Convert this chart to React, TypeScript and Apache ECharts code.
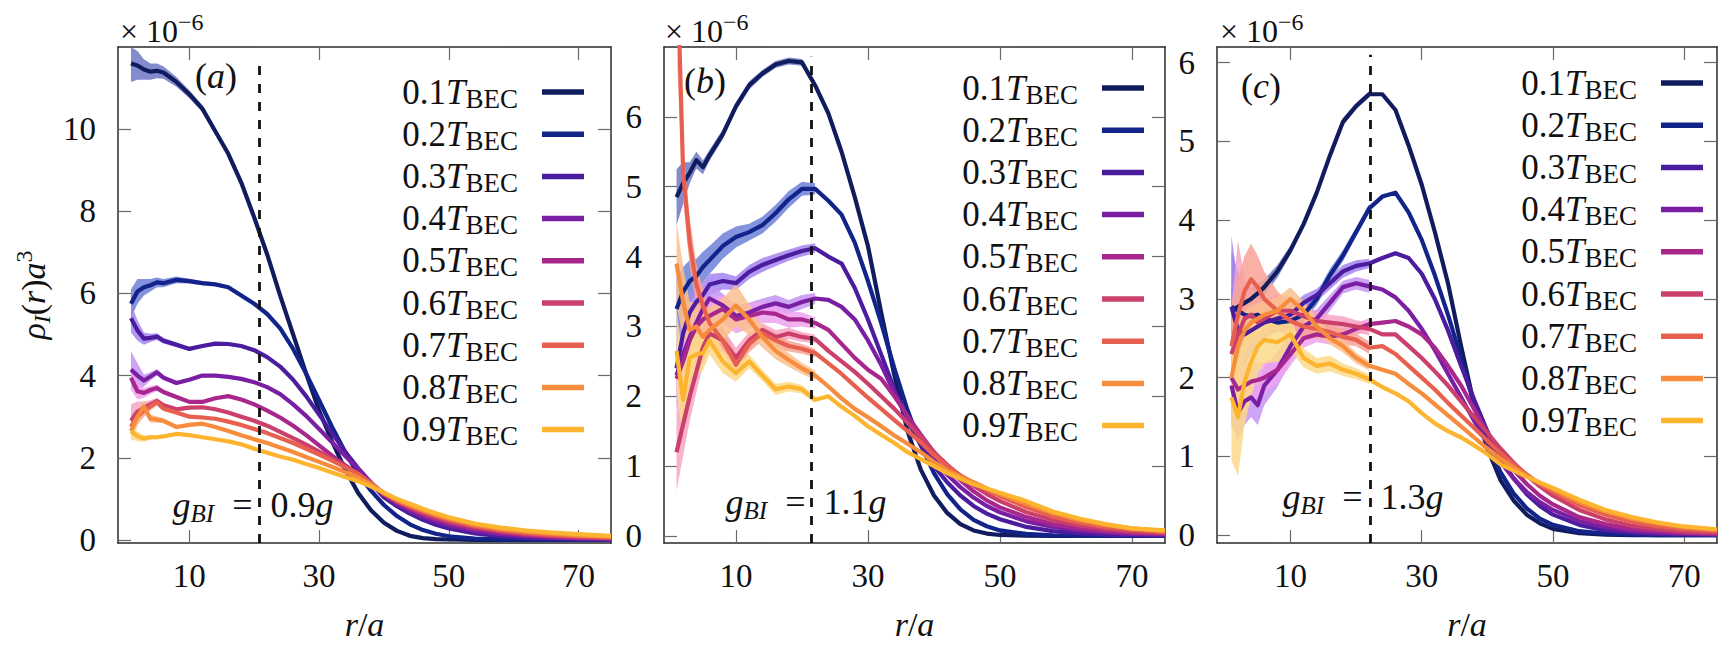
import React, { useEffect, useRef } from 'react';
import * as echarts from 'echarts';

const FONT = 'Liberation Serif';

// radial grid r/a
const R = [1, 2, 3, 4, 5, 6, 8, 10, 12, 14, 16, 18, 20, 22, 24, 26, 28, 30, 32, 34, 36, 38, 40, 42, 44, 46, 48, 50, 54, 58, 62, 66, 70, 75];
const TEMPS = ['0.1', '0.2', '0.3', '0.4', '0.5', '0.6', '0.7', '0.8', '0.9'];
const LINE_COLORS = ['#101c5e', '#12248a', '#4b1d9e', '#7a1fa3', '#a8278d', '#cb3f6b', '#e7604f', '#f68c3c', '#fdb52f'];
const BAND_COLORS = ['#6f78c4', '#6e80d8', '#a385ee', '#c694f2', '#efa3ef', '#f7a3c5', '#f9a395', '#fac08e', '#fcd98a'];
const X_TICKS = [10, 30, 50, 70];
const Y_TICKS_A = [0, 2, 4, 6, 8, 10];
const Y_TICKS_BC = [0, 1, 2, 3, 4, 5, 6];
const G_VALUES = ['0.9', '1.1', '1.3'];
const VLINE_X = [20.8, 21.45, 22.1];
const VLINE_TOP = [11.75, 6.86, 6.1];

// panel (a): g_BI = 0.9 g
const A1 = [11.6, 11.55, 11.45, 11.4, 11.42, 11.38, 11.15, 10.85, 10.5, 9.95, 9.4, 8.7, 7.85, 6.95, 5.95, 5.0, 4.05, 3.15, 2.4, 1.72, 1.15, 0.72, 0.42, 0.22, 0.1, 0.045, 0.02, 0.01, 0.003, 0, 0, 0, 0, 0];
const A2 = [5.75, 6.05, 6.15, 6.2, 6.27, 6.25, 6.33, 6.3, 6.25, 6.22, 6.15, 5.95, 5.75, 5.5, 5.15, 4.65, 4.05, 3.4, 2.75, 2.15, 1.6, 1.2, 0.85, 0.58, 0.38, 0.24, 0.15, 0.09, 0.035, 0.012, 0.005, 0, 0, 0];
const A3 = [5.4, 5.1, 4.9, 4.92, 4.95, 4.85, 4.75, 4.65, 4.72, 4.78, 4.77, 4.72, 4.62, 4.45, 4.22, 3.9, 3.5, 3.05, 2.6, 2.15, 1.75, 1.38, 1.04, 0.82, 0.64, 0.49, 0.37, 0.28, 0.16, 0.09, 0.05, 0.03, 0.018, 0.01];
const A4 = [4.15, 4.0, 3.88, 3.98, 4.08, 3.95, 3.82, 3.9, 4.0, 4.0, 3.97, 3.92, 3.84, 3.72, 3.55, 3.3, 3.02, 2.7, 2.38, 2.05, 1.73, 1.4, 1.1, 0.88, 0.71, 0.57, 0.45, 0.36, 0.22, 0.14, 0.09, 0.055, 0.035, 0.02];
const A5 = [3.95, 3.62, 3.58, 3.65, 3.7, 3.6, 3.48, 3.36, 3.36, 3.45, 3.5, 3.42, 3.3, 3.15, 2.98, 2.78, 2.55, 2.3, 2.05, 1.82, 1.6, 1.38, 1.1, 0.92, 0.76, 0.62, 0.51, 0.41, 0.27, 0.18, 0.12, 0.08, 0.055, 0.035];
const A6 = [2.9, 3.12, 3.22, 3.3, 3.38, 3.28, 3.18, 3.22, 3.23, 3.18, 3.1, 3.0, 2.9, 2.78, 2.63, 2.48, 2.32, 2.15, 1.98, 1.8, 1.62, 1.38, 1.12, 0.94, 0.79, 0.66, 0.55, 0.45, 0.31, 0.21, 0.14, 0.1, 0.07, 0.05];
const A7 = [2.75, 3.0, 3.15, 3.25, 3.35, 3.2, 3.1, 3.0, 2.98, 2.95, 2.88, 2.8, 2.7, 2.6, 2.48, 2.36, 2.22, 2.08, 1.93, 1.77, 1.61, 1.38, 1.13, 0.96, 0.82, 0.7, 0.59, 0.49, 0.34, 0.24, 0.17, 0.12, 0.09, 0.06];
const A8 = [2.65, 3.0, 3.25, 2.95, 2.93, 2.9, 2.75, 2.8, 2.83, 2.75, 2.65, 2.55, 2.45, 2.36, 2.25, 2.14, 2.02, 1.9, 1.78, 1.65, 1.52, 1.35, 1.14, 0.98, 0.85, 0.73, 0.62, 0.52, 0.37, 0.27, 0.2, 0.15, 0.11, 0.08];
const A9 = [2.65, 2.52, 2.47, 2.5, 2.5, 2.52, 2.58, 2.55, 2.5, 2.45, 2.4, 2.33, 2.22, 2.12, 2.03, 1.95, 1.85, 1.75, 1.64, 1.53, 1.43, 1.3, 1.15, 1.0, 0.88, 0.76, 0.65, 0.55, 0.4, 0.3, 0.23, 0.18, 0.14, 0.1];

// panel (b): g_BI = 1.1 g
const B1 = [4.85, 5.05, 5.2, 5.38, 5.28, 5.45, 5.75, 6.15, 6.45, 6.62, 6.75, 6.8, 6.78, 6.45, 6.05, 5.5, 4.85, 4.15, 3.2, 2.3, 1.5, 0.95, 0.58, 0.33, 0.17, 0.08, 0.035, 0.015, 0.004, 0, 0, 0, 0, 0];
const B2 = [3.25, 3.5, 3.65, 3.72, 3.85, 3.95, 4.15, 4.28, 4.35, 4.45, 4.62, 4.82, 4.97, 4.97, 4.8, 4.6, 4.2, 3.65, 3.05, 2.4, 1.8, 1.3, 0.9, 0.6, 0.38, 0.23, 0.14, 0.08, 0.03, 0.01, 0.004, 0, 0, 0];
const B3 = [2.4, 2.9, 3.2, 3.35, 3.45, 3.6, 3.65, 3.62, 3.78, 3.88, 3.95, 4.02, 4.08, 4.12, 4.0, 3.9, 3.55, 3.1, 2.6, 2.1, 1.65, 1.3, 1.0, 0.77, 0.58, 0.43, 0.32, 0.24, 0.13, 0.07, 0.04, 0.02, 0.012, 0.006];
const B4 = [2.3, 2.6, 2.85, 3.05, 3.25, 3.4, 3.3, 3.15, 3.2, 3.28, 3.33, 3.28, 3.35, 3.4, 3.38, 3.28, 3.1, 2.8, 2.45, 2.05, 1.7, 1.38, 1.1, 0.88, 0.7, 0.55, 0.43, 0.34, 0.21, 0.13, 0.08, 0.05, 0.03, 0.018];
const B5 = [2.25, 2.5, 2.8, 3.0, 3.1, 3.15, 3.25, 3.1, 3.15, 3.2, 3.18, 3.1, 3.1, 3.05, 2.95, 2.75, 2.55, 2.38, 2.25, 2.0, 1.72, 1.45, 1.2, 0.98, 0.8, 0.64, 0.51, 0.41, 0.27, 0.17, 0.11, 0.07, 0.045, 0.03];
const B6 = [1.2, 1.6, 2.0, 2.35, 2.7, 2.9, 2.8, 2.55, 2.8, 2.95, 2.85, 2.9, 2.85, 2.82, 2.65, 2.5, 2.35, 2.18, 2.0, 1.82, 1.62, 1.42, 1.2, 1.02, 0.86, 0.72, 0.6, 0.5, 0.34, 0.23, 0.15, 0.1, 0.065, 0.04];
const B7 = [8.5, 5.2, 4.2, 3.6, 3.3, 3.05, 2.8, 2.45, 2.75, 2.9, 2.8, 2.72, 2.68, 2.62, 2.47, 2.32, 2.15, 1.98, 1.82, 1.66, 1.5, 1.34, 1.16, 1.0, 0.87, 0.76, 0.66, 0.57, 0.41, 0.28, 0.19, 0.13, 0.09, 0.06];
const B8 = [3.9, 3.35, 2.95, 3.0, 2.85, 2.95, 3.1, 3.3, 3.1, 2.85, 2.65, 2.52, 2.4, 2.3, 2.14, 1.97, 1.82, 1.7, 1.57, 1.44, 1.32, 1.2, 1.06, 0.94, 0.85, 0.77, 0.68, 0.6, 0.46, 0.33, 0.23, 0.16, 0.11, 0.07];
const B9 = [2.65, 1.95, 2.55, 2.6, 2.62, 2.8, 2.5, 2.33, 2.5, 2.3, 2.1, 2.14, 2.1, 1.95, 2.0, 1.85, 1.72, 1.57, 1.45, 1.33, 1.2, 1.1, 1.0, 0.9, 0.82, 0.74, 0.68, 0.62, 0.5, 0.35, 0.25, 0.17, 0.11, 0.08];

// panel (c): g_BI = 1.3 g
const C1 = [2.85, 2.9, 2.95, 3.0, 3.07, 3.15, 3.35, 3.62, 3.95, 4.35, 4.82, 5.25, 5.45, 5.6, 5.6, 5.4, 4.95, 4.45, 3.85, 3.2, 2.4, 1.65, 1.1, 0.7, 0.44, 0.26, 0.15, 0.08, 0.025, 0.006, 0, 0, 0, 0];
const C2 = [2.9, 2.85, 2.8, 2.78, 2.8, 2.75, 2.7, 2.72, 2.8, 3.0, 3.3, 3.55, 3.85, 4.15, 4.3, 4.35, 4.1, 3.75, 3.3, 2.8, 2.25, 1.65, 1.18, 0.8, 0.53, 0.34, 0.21, 0.13, 0.05, 0.02, 0.007, 0, 0, 0];
const C3 = [2.9, 2.6, 2.55, 2.6, 2.65, 2.7, 2.75, 2.8, 2.95, 3.05, 3.2, 3.35, 3.42, 3.45, 3.52, 3.58, 3.52, 3.32, 3.0, 2.6, 2.15, 1.72, 1.32, 0.98, 0.72, 0.52, 0.37, 0.26, 0.13, 0.06, 0.03, 0.015, 0.008, 0.004];
const C4 = [1.9, 1.55, 1.7, 1.75, 1.65, 1.9, 2.1, 2.4, 2.65, 2.75, 2.95, 3.15, 3.2, 3.16, 3.12, 3.02, 2.85, 2.62, 2.35, 2.05, 1.75, 1.45, 1.18, 0.93, 0.72, 0.55, 0.42, 0.32, 0.18, 0.1, 0.055, 0.03, 0.018, 0.01];
const C5 = [2.0, 1.85, 1.9, 1.95, 1.97, 2.0, 2.1, 2.3, 2.5, 2.55, 2.52, 2.55, 2.62, 2.68, 2.7, 2.72, 2.65, 2.55, 2.38, 2.15, 1.9, 1.6, 1.3, 1.05, 0.83, 0.65, 0.5, 0.39, 0.23, 0.14, 0.08, 0.05, 0.03, 0.018];
const C6 = [2.3, 2.55, 2.75, 2.8, 2.7, 2.75, 2.85, 2.85, 2.78, 2.72, 2.7, 2.68, 2.65, 2.62, 2.55, 2.55, 2.4, 2.25, 2.08, 1.9, 1.7, 1.5, 1.3, 1.1, 0.92, 0.76, 0.62, 0.5, 0.32, 0.2, 0.12, 0.075, 0.045, 0.028];
const C7 = [2.4, 2.8, 3.1, 3.25, 3.15, 3.0, 2.85, 2.72, 2.65, 2.62, 2.58, 2.52, 2.48, 2.38, 2.4, 2.3, 2.15, 2.0, 1.85, 1.68, 1.52, 1.36, 1.2, 1.04, 0.9, 0.77, 0.65, 0.55, 0.38, 0.26, 0.17, 0.11, 0.075, 0.05];
const C8 = [2.0, 2.4, 2.6, 2.7, 2.75, 2.8, 2.85, 3.0, 2.85, 2.65, 2.5, 2.4, 2.25, 2.15, 2.1, 2.05, 1.92, 1.8, 1.66, 1.52, 1.38, 1.24, 1.1, 0.97, 0.86, 0.75, 0.66, 0.58, 0.42, 0.3, 0.21, 0.15, 0.1, 0.07];
const C9 = [1.75, 1.5, 1.95, 2.2, 2.4, 2.48, 2.45, 2.55, 2.25, 2.15, 2.18, 2.1, 2.05, 1.98, 1.88, 1.8, 1.7, 1.55, 1.42, 1.32, 1.24, 1.14, 1.03, 0.9, 0.82, 0.74, 0.67, 0.6, 0.45, 0.32, 0.23, 0.16, 0.11, 0.075];

// error-band half widths for the first grid points (r = 1 ... 22)
const WA1 = [0.45, 0.35, 0.25, 0.2, 0.18, 0.15, 0.12, 0.1, 0.08, 0.06, 0.05, 0.05, 0.05, 0.05];
const WA2 = [0.35, 0.3, 0.2, 0.15, 0.12, 0.1, 0.08, 0.06, 0.05, 0.04, 0.04, 0.04, 0.03, 0.03];
const WA3 = [0.35, 0.25, 0.15, 0.1, 0.08, 0.07, 0.06, 0.05, 0.04, 0.04, 0.03, 0.03, 0.03, 0.03];
const WA4 = [0.45, 0.3, 0.15, 0.1, 0.08, 0.06, 0.05, 0.04, 0.04, 0.03, 0.03, 0.03, 0.03, 0.03];
const WA5 = [0.3, 0.2, 0.12, 0.1, 0.08, 0.06, 0.05, 0.04, 0.04, 0.03, 0.03, 0.03, 0.03, 0.03];
const WA6 = [0.4, 0.25, 0.15, 0.1, 0.08, 0.06, 0.05, 0.04, 0.04, 0.03, 0.03, 0.03, 0.03, 0.03];
const WA7 = [0.3, 0.2, 0.15, 0.1, 0.08, 0.06, 0.05, 0.04, 0.04, 0.03, 0.03, 0.03, 0.03, 0.03];
const WA8 = [0.25, 0.2, 0.15, 0.1, 0.08, 0.06, 0.05, 0.04, 0.04, 0.03, 0.03, 0.03, 0.03, 0.03];
const WA9 = [0.2, 0.12, 0.08, 0.06, 0.05, 0.04, 0.04, 0.04, 0.03, 0.03, 0.03, 0.03, 0.03, 0.03];

const WB1 = [0.4, 0.3, 0.15, 0.12, 0.1, 0.08, 0.07, 0.06, 0.06, 0.05, 0.05, 0.05, 0.05, 0.05];
const WB2 = [0.45, 0.35, 0.3, 0.25, 0.22, 0.2, 0.18, 0.15, 0.12, 0.12, 0.12, 0.12, 0.1, 0.08];
const WB3 = [0.4, 0.3, 0.25, 0.2, 0.18, 0.15, 0.12, 0.1, 0.1, 0.1, 0.09, 0.08, 0.08, 0.07];
const WB4 = [0.45, 0.4, 0.35, 0.3, 0.25, 0.2, 0.17, 0.15, 0.14, 0.12, 0.12, 0.1, 0.1, 0.08];
const WB5 = [0.5, 0.4, 0.35, 0.3, 0.25, 0.22, 0.2, 0.2, 0.18, 0.15, 0.13, 0.12, 0.1, 0.08];
const WB6 = [0.55, 0.45, 0.35, 0.3, 0.25, 0.2, 0.18, 0.15, 0.12, 0.1, 0.1, 0.08, 0.07, 0.06];
const WB7 = [0.5, 0.4, 0.35, 0.3, 0.25, 0.2, 0.17, 0.15, 0.12, 0.1, 0.1, 0.08, 0.07, 0.06];
const WB8 = [0.6, 0.5, 0.4, 0.35, 0.35, 0.32, 0.3, 0.3, 0.22, 0.15, 0.12, 0.1, 0.08, 0.07];
const WB9 = [0.6, 0.55, 0.4, 0.3, 0.25, 0.2, 0.17, 0.12, 0.1, 0.08, 0.08, 0.07, 0.06, 0.05];

const WC1 = [0.3, 0.25, 0.2, 0.15, 0.12, 0.1, 0.08, 0.06, 0.05, 0.05, 0.05, 0.05, 0.04, 0.04];
const WC2 = [0.7, 0.5, 0.35, 0.25, 0.2, 0.15, 0.12, 0.1, 0.08, 0.08, 0.08, 0.07, 0.06, 0.06];
const WC3 = [0.9, 0.6, 0.4, 0.3, 0.25, 0.2, 0.15, 0.12, 0.1, 0.08, 0.08, 0.08, 0.07, 0.06];
const WC4 = [0.5, 0.35, 0.3, 0.25, 0.25, 0.25, 0.22, 0.2, 0.15, 0.12, 0.1, 0.08, 0.08, 0.08];
const WC5 = [0.5, 0.35, 0.3, 0.25, 0.22, 0.2, 0.18, 0.15, 0.12, 0.1, 0.1, 0.08, 0.08, 0.07];
const WC6 = [0.6, 1.2, 0.5, 0.35, 0.3, 0.25, 0.2, 0.17, 0.15, 0.12, 0.1, 0.1, 0.08, 0.08];
const WC7 = [0.5, 0.45, 0.45, 0.45, 0.4, 0.35, 0.25, 0.2, 0.15, 0.12, 0.1, 0.1, 0.08, 0.08];
const WC8 = [0.4, 0.3, 0.25, 0.22, 0.2, 0.18, 0.17, 0.15, 0.12, 0.1, 0.08, 0.08, 0.07, 0.06];
const WC9 = [0.8, 0.75, 0.55, 0.45, 0.35, 0.3, 0.25, 0.2, 0.12, 0.1, 0.1, 0.08, 0.07, 0.06];

const CURVES = [
  [A1, A2, A3, A4, A5, A6, A7, A8, A9],
  [B1, B2, B3, B4, B5, B6, B7, B8, B9],
  [C1, C2, C3, C4, C5, C6, C7, C8, C9],
];
const BANDS = [
  [WA1, WA2, WA3, WA4, WA5, WA6, WA7, WA8, WA9],
  [WB1, WB2, WB3, WB4, WB5, WB6, WB7, WB8, WB9],
  [WC1, WC2, WC3, WC4, WC5, WC6, WC7, WC8, WC9],
];

// layout (pixels) – not data
const LAYOUT = [
  { left: 118, width: 493, xMin: -1, xMax: 75, yMin: -0.075, yMax: 12, yTicks: Y_TICKS_A, legendRight: 1140, legendTop: 72, tag: 'a', tagX: 216, tagY: 76, sciX: 120, gX: 253, gY: 505 },
  { left: 664, width: 501, xMin: -0.9, xMax: 75, yMin: -0.1, yMax: 7, yTicks: Y_TICKS_BC, legendRight: 580, legendTop: 68, tag: 'b', tagX: 705, tagY: 81, sciX: 665, gX: 806, gY: 502 },
  { left: 1217, width: 500, xMin: -1.2, xMax: 75, yMin: -0.1, yMax: 6.2, yTicks: Y_TICKS_BC, legendRight: 21, legendTop: 63, tag: 'c', tagX: 1261, tagY: 86, sciX: 1220, gX: 1363, gY: 497 },
];
const GRID_TOP = 47;
const GRID_HEIGHT = 496;

const AXIS_LINE = { show: true, onZero: false, lineStyle: { color: '#2a2a2a', width: 1.5 } };
const TICK_STYLE = { color: '#6a6a6a', width: 1.2 };

function buildOption() {
  const grid: any[] = [];
  const xAxis: any[] = [];
  const yAxis: any[] = [];
  const series: any[] = [];
  const legend: any[] = [];
  const graphic: any[] = [];

  LAYOUT.forEach((L, p) => {
    grid.push({ left: L.left, top: GRID_TOP, width: L.width, height: GRID_HEIGHT, containLabel: false });
    const common = { gridIndex: p, type: 'value', min: L.xMin, max: L.xMax, splitLine: { show: false }, axisLine: AXIS_LINE };
    xAxis.push({
      ...common,
      position: 'bottom',
      name: '{i|r}{n|/}{i|a}',
      nameLocation: 'middle',
      nameGap: 64,
      nameTextStyle: {
        fontFamily: FONT, fontSize: 34, color: '#111',
        rich: {
          i: { fontStyle: 'italic', fontFamily: FONT, fontSize: 34, color: '#111' },
          n: { fontFamily: FONT, fontSize: 34, color: '#111' },
        },
      },
      axisTick: { inside: true, length: 13, customValues: X_TICKS, lineStyle: TICK_STYLE },
      axisLabel: { customValues: X_TICKS, fontFamily: FONT, fontSize: 33, color: '#111', margin: 16 },
    });
    xAxis.push({
      ...common,
      position: 'top',
      axisTick: { inside: true, length: 13, customValues: X_TICKS, lineStyle: TICK_STYLE },
      axisLabel: { show: false },
    });
    const ycommon = { gridIndex: p, type: 'value', min: L.yMin, max: L.yMax, splitLine: { show: false }, axisLine: AXIS_LINE };
    const yLeft: any = {
      ...ycommon,
      position: 'left',
      axisTick: { inside: true, length: 13, customValues: L.yTicks, lineStyle: TICK_STYLE },
      axisLabel: { customValues: L.yTicks, fontFamily: FONT, fontSize: 33, color: '#111', margin: 22 },
    };
    if (p === 0) {
      yLeft.name = '{i|ρ}{b|I}{n|(}{i|r}{n|)}{i|a}{p|3}';
      yLeft.nameLocation = 'middle';
      yLeft.nameGap = 64;
      yLeft.nameRotate = 90;
      yLeft.nameTextStyle = {
        fontFamily: FONT, fontSize: 34, color: '#111', lineHeight: 42,
        rich: {
          i: { fontStyle: 'italic', fontFamily: FONT, fontSize: 34, lineHeight: 42, color: '#111' },
          n: { fontFamily: FONT, fontSize: 34, lineHeight: 42, color: '#111' },
          b: { fontStyle: 'italic', fontFamily: FONT, fontSize: 24, lineHeight: 24, verticalAlign: 'bottom', color: '#111' },
          p: { fontFamily: FONT, fontSize: 24, lineHeight: 24, verticalAlign: 'top', color: '#111' },
        },
      };
    }
    yAxis.push(yLeft);
    yAxis.push({
      ...ycommon,
      position: 'right',
      axisTick: { inside: true, length: 13, customValues: L.yTicks, lineStyle: TICK_STYLE },
      axisLabel: { show: false },
    });

    const curves = CURVES[p];
    const bands = BANDS[p];
    curves.forEach((vals, k) => {
      const w = bands[k];
      const yMax = L.yMax;
      series.push({
        name: `band-${L.tag}-${TEMPS[k]}`, type: 'custom', xAxisIndex: p * 2, yAxisIndex: p * 2,
        silent: true, clip: true,
        data: [[R[0], vals[0]]],
        renderItem: (_params: any, api: any) => {
          const upper = w.map((h, j) => api.coord([R[j], Math.min(vals[j] + h, yMax)]));
          const lower = w.map((h, j) => api.coord([R[j], Math.min(vals[j] - h, yMax)])).reverse();
          return {
            type: 'polygon',
            shape: { points: upper.concat(lower) },
            style: { fill: BAND_COLORS[k], opacity: 0.85 },
          };
        },
      });
      const s: any = {
        name: TEMPS[k], type: 'line', xAxisIndex: p * 2, yAxisIndex: p * 2,
        data: R.map((r, j) => [r, vals[j]]), symbol: 'none', showSymbol: false,
        lineStyle: { width: 4.2, color: LINE_COLORS[k], join: 'round' },
        itemStyle: { color: LINE_COLORS[k] },
      };
      if (k === curves.length - 1) {
        s.markLine = {
          silent: true, symbol: ['none', 'none'], label: { show: false },
          lineStyle: { type: [9, 9], color: '#111', width: 2.8 },
          data: [[{ coord: [VLINE_X[p], L.yMin] }, { coord: [VLINE_X[p], VLINE_TOP[p]] }]],
        };
      }
      series.push(s);
    });

    legend.push({
      orient: 'vertical', right: L.legendRight, top: L.legendTop, padding: 0,
      itemWidth: 42, itemHeight: 5.5, itemGap: 2.2, icon: 'rect', align: 'right',
      selectedMode: false, data: TEMPS,
      formatter: (name: string) => `{m|${name}}{t|T}{s|BEC}{g| }`,
      textStyle: {
        fontFamily: FONT, fontSize: 35, color: '#111', lineHeight: 40,
        rich: {
          m: { fontFamily: FONT, fontSize: 35, lineHeight: 40, color: '#111' },
          t: { fontStyle: 'italic', fontFamily: FONT, fontSize: 35, lineHeight: 40, color: '#111' },
          s: { fontFamily: FONT, fontSize: 27, lineHeight: 27, verticalAlign: 'bottom', color: '#111' },
          g: { width: 19, fontSize: 10 },
        },
      },
    });

    graphic.push({
      type: 'text', x: L.sciX, y: 10, z: 50,
      style: {
        text: '{m|× 10}{s|−6}', fill: '#111', align: 'left', verticalAlign: 'top',
        rich: {
          m: { fontFamily: FONT, fontSize: 32, lineHeight: 42, fill: '#111' },
          s: { fontFamily: FONT, fontSize: 24, lineHeight: 24, verticalAlign: 'top', fill: '#111' },
        },
      },
    });
    graphic.push({
      type: 'text', x: L.tagX, y: L.tagY, z: 50,
      style: {
        text: `{n|(}{i|${L.tag}}{n|)}`, fill: '#111', align: 'center', verticalAlign: 'middle',
        rich: {
          n: { fontFamily: FONT, fontSize: 36, fill: '#111' },
          i: { fontStyle: 'italic', fontFamily: FONT, fontSize: 36, fill: '#111' },
        },
      },
    });
    graphic.push({
      type: 'text', x: L.gX, y: L.gY, z: 1,
      style: {
        text: `{i|g}{b|BI}{n|  =  ${G_VALUES[p]}}{i|g}`, fill: '#111', align: 'center', verticalAlign: 'middle',
        rich: {
          i: { fontStyle: 'italic', fontFamily: FONT, fontSize: 36, lineHeight: 42, fill: '#111' },
          n: { fontFamily: FONT, fontSize: 36, lineHeight: 42, fill: '#111' },
          b: { fontStyle: 'italic', fontFamily: FONT, fontSize: 25, lineHeight: 25, verticalAlign: 'bottom', fill: '#111' },
        },
      },
    });
  });

  return {
    animation: false,
    backgroundColor: '#ffffff',
    textStyle: { fontFamily: FONT },
    grid, xAxis, yAxis, series, legend, graphic,
  };
}

export default function App() {
  const ref = useRef<HTMLDivElement>(null);
  useEffect(() => {
    const chart = echarts.init(ref.current!, undefined, { renderer: 'svg' });
    chart.setOption(buildOption() as any);
    return () => chart.dispose();
  }, []);
  return <div ref={ref} style={{ position: 'fixed', left: 0, top: 0, width: 1724, height: 653, background: '#fff' }} />;
}
